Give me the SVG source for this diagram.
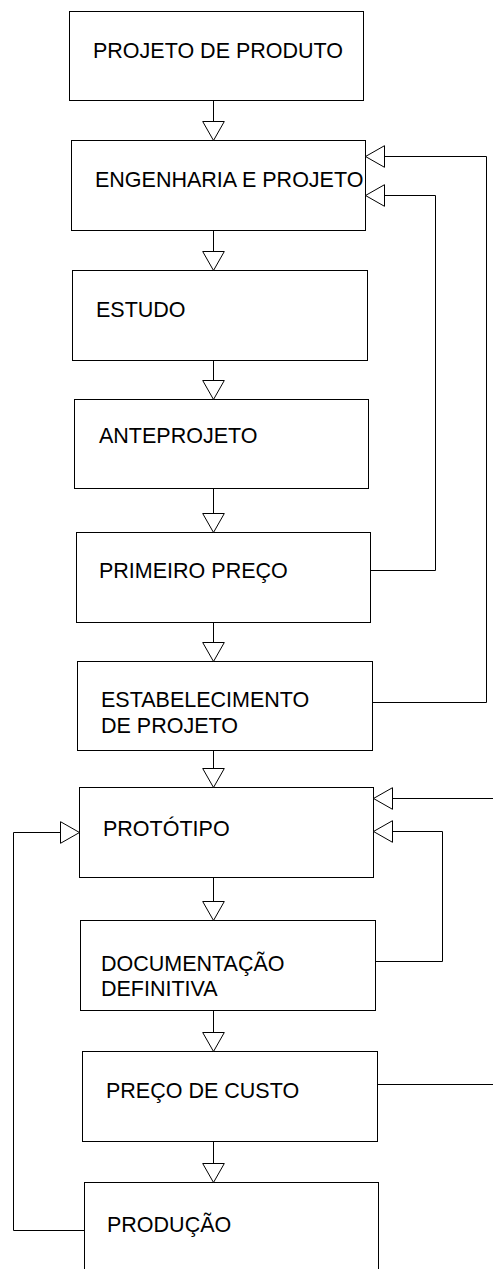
<svg xmlns="http://www.w3.org/2000/svg" width="493" height="1269" viewBox="0 0 493 1269">
<style>
.box{fill:#fff;stroke:#000;stroke-width:1}
.lbl{font-family:"Liberation Sans",Arial,sans-serif;font-size:21.5px;fill:#000}
.con{fill:none;stroke:#000;stroke-width:1}
</style>
<defs>
<marker id="tri" markerUnits="userSpaceOnUse" markerWidth="20" markerHeight="22" refX="19" refY="10.8" orient="auto" overflow="visible">
<path d="M0,0 L19,10.8 L0,21.6 Z" fill="#fff" stroke="#000" stroke-width="1"/>
</marker>
</defs>
<rect width="493" height="1269" fill="#fff"/>
<g id="n1"><rect class="box" x="69.5" y="11.5" width="294" height="89"/><text class="lbl" x="93" y="58">PROJETO DE PRODUTO</text></g>
<g id="n2"><rect class="box" x="71.5" y="140.5" width="294" height="90"/><text class="lbl" x="95" y="187">ENGENHARIA E PROJETO</text></g>
<g id="n3"><rect class="box" x="72.5" y="270.5" width="295" height="90"/><text class="lbl" x="96" y="317">ESTUDO</text></g>
<g id="n4"><rect class="box" x="74.5" y="399.5" width="294" height="89"/><text class="lbl" x="99" y="443">ANTEPROJETO</text></g>
<g id="n5"><rect class="box" x="76.5" y="532.5" width="294" height="90"/><text class="lbl" x="99" y="578">PRIMEIRO PREÇO</text></g>
<g id="n6"><rect class="box" x="77.5" y="661.5" width="295" height="89"/><text class="lbl" x="101" y="707">ESTABELECIMENTO</text><text class="lbl" x="101" y="733">DE PROJETO</text></g>
<g id="n7"><rect class="box" x="79.5" y="787.5" width="294" height="90"/><text class="lbl" x="103" y="836">PROTÓTIPO</text></g>
<g id="n8"><rect class="box" x="80.5" y="920.5" width="295" height="90"/><text class="lbl" x="101" y="971">DOCUMENTAÇÃO</text><text class="lbl" x="101" y="996">DEFINITIVA</text></g>
<g id="n9"><rect class="box" x="82.5" y="1051.5" width="295" height="90"/><text class="lbl" x="106" y="1098">PREÇO DE CUSTO</text></g>
<g id="n10"><rect class="box" x="84.5" y="1182.5" width="294" height="100"/><text class="lbl" x="107" y="1232">PRODUÇÃO</text></g>
<g id="connectors">
<path class="con" d="M213.5,100.5 V140.5" marker-end="url(#tri)"/>
<path class="con" d="M213.5,230.5 V270.5" marker-end="url(#tri)"/>
<path class="con" d="M213.5,360.5 V399.5" marker-end="url(#tri)"/>
<path class="con" d="M213.5,488.5 V532.5" marker-end="url(#tri)"/>
<path class="con" d="M213.5,622.5 V661.5" marker-end="url(#tri)"/>
<path class="con" d="M213.5,750.5 V787.5" marker-end="url(#tri)"/>
<path class="con" d="M213.5,877.5 V920.5" marker-end="url(#tri)"/>
<path class="con" d="M213.5,1010.5 V1051.5" marker-end="url(#tri)"/>
<path class="con" d="M213.5,1141.5 V1182.5" marker-end="url(#tri)"/>
<path class="con" d="M370.5,570.5 H435.5 V195.5 H365.5" marker-end="url(#tri)"/>
<path class="con" d="M372.5,702.5 H486.5 V156.5 H365.5" marker-end="url(#tri)"/>
<path class="con" d="M493,798.5 H373.5" marker-end="url(#tri)"/>
<path class="con" d="M375.5,961.5 H442.5 V831.5 H373.5" marker-end="url(#tri)"/>
<path class="con" d="M377.5,1084.5 H493"/>
<path class="con" d="M84.5,1230.5 H13.5 V832.5 H79.5" marker-end="url(#tri)"/>
</g>
</svg>
